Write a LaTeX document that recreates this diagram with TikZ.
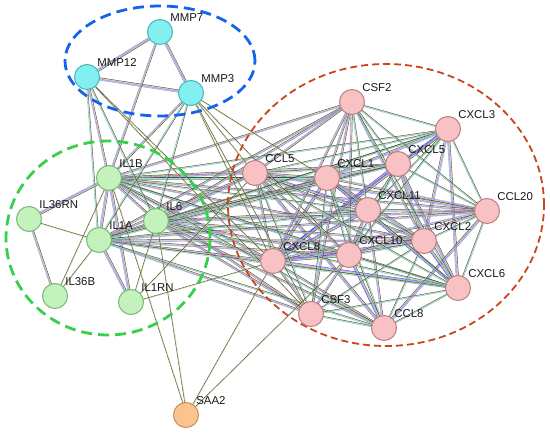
\documentclass[tikz,border=0pt]{standalone}
\usepackage{fontspec}
\setmainfont{Liberation Sans}
\usetikzlibrary{calc,backgrounds}

\definecolor{mmpfill}{HTML}{82F0F0}
\definecolor{mmpline}{HTML}{4CB5B5}
\definecolor{ilfill}{HTML}{C4F2BC}
\definecolor{illine}{HTML}{79B872}
\definecolor{chfill}{HTML}{F8C2C5}
\definecolor{chline}{HTML}{B98085}
\definecolor{saafill}{HTML}{FBC48F}
\definecolor{saaline}{HTML}{CC8E52}
\definecolor{tmc}{HTML}{C9DB72}
\definecolor{coc}{HTML}{4A4A4A}
\definecolor{dbc}{HTML}{5EC3E6}
\definecolor{exc}{HTML}{DD55DD}
\definecolor{hoc}{HTML}{8F8FF0}
\definecolor{ccc}{HTML}{3340EE}
\definecolor{mmpgroup}{HTML}{1264EE}
\definecolor{ilgroup}{HTML}{36D04C}
\definecolor{chgroup}{HTML}{C8461A}

\newcommand{\stringlink}[3]{%
  \foreach \lc [count=\li] in {#3}{%
    \pgfmathsetmacro{\lo}{(\li-3)*0.62}%
    \draw[lnk,\lc] ($(#1)!\lo pt!90:(#2)$) -- ($(#2)!\lo pt!-90:(#1)$);
  }%
}

\begin{document}
\begin{tikzpicture}[x=1pt,y=-1pt,
prot/.style={circle,draw,line width=1pt,minimum size=25pt,inner sep=0pt},
mmp/.style={prot,fill=mmpfill,draw=mmpline},
il/.style={prot,fill=ilfill,draw=illine},
chemo/.style={prot,fill=chfill,draw=chline},
saa/.style={prot,fill=saafill,draw=saaline},
every label/.style={inner sep=1pt,text=black!90,font=\fontsize{11.4}{13}\selectfont},
lnk/.style={line width=0.45pt},
group/.style={dashed,line width=2.8pt,dash pattern=on 11pt off 6pt}]

\useasboundingbox (0,0) rectangle (550,435);

\draw (160,32) node[mmp,label=north east:MMP7] (mmp7) {};
\draw (87,77) node[mmp,label=north east:MMP12] (mmp12) {};
\draw (191,93) node[mmp,label=north east:MMP3] (mmp3) {};

\draw (109,178) node[il,label=north east:IL1B] (il1b) {};
\draw (29,219) node[il,label=north east:IL36RN] (il36rn) {};
\draw (99,240) node[il,label=north east:IL1A] (il1a) {};
\draw (156,221) node[il,label=north east:IL6] (il6) {};
\draw (55,296) node[il,label=north east:IL36B] (il36b) {};
\draw (131,302) node[il,label=north east:IL1RN] (il1rn) {};

\draw (352,102) node[chemo,label=north east:CSF2] (csf2) {};
\draw (448,129) node[chemo,label=north east:CXCL3] (cxcl3) {};
\draw (255,173) node[chemo,label=north east:CCL5] (ccl5) {};
\draw (327,178) node[chemo,label=north east:CXCL1] (cxcl1) {};
\draw (398,164) node[chemo,label=north east:CXCL5] (cxcl5) {};
\draw (368,210) node[chemo,label=north east:CXCL11] (cxcl11) {};
\draw (487,211) node[chemo,label=north east:CCL20] (ccl20) {};
\draw (424,241) node[chemo,label=north east:CXCL2] (cxcl2) {};
\draw (273,261) node[chemo,label=north east:CXCL8] (cxcl8) {};
\draw (349,255) node[chemo,label=north east:CXCL10] (cxcl10) {};
\draw (458,288) node[chemo,label=north east:CXCL6] (cxcl6) {};
\draw (311,314) node[chemo,label=north east:CSF3] (csf3) {};
\draw (384,328) node[chemo,label=north east:CCL8] (ccl8) {};

\draw (186,415) node[saa,label=north east:SAA2] (saa2) {};

\begin{scope}[on background layer]
\foreach \a/\b in {mmp7/mmp12,mmp7/mmp3,mmp12/mmp3,il1b/il1a,il1b/il36rn,il1b/il1rn,il1a/il1rn,
  cxcl1/cxcl2,cxcl1/cxcl3,cxcl1/cxcl5,cxcl2/cxcl3,cxcl2/cxcl5,cxcl3/cxcl5,cxcl3/cxcl6,
  cxcl5/cxcl6,cxcl10/cxcl11,ccl5/ccl8,ccl5/ccl20,ccl8/ccl20}
  \stringlink{\a}{\b}{hoc,dbc,exc,tmc,coc};
\foreach \a/\b in {cxcl1/cxcl6,cxcl1/cxcl8,cxcl2/cxcl6,cxcl2/cxcl8,cxcl5/cxcl8,cxcl6/cxcl8,
  cxcl3/cxcl8,cxcl10/cxcl8,cxcl11/cxcl8,cxcl11/ccl5,cxcl10/ccl8}
  \stringlink{\a}{\b}{ccc,exc,dbc,tmc,coc};
\foreach \a/\b in {il1b/il6,il1a/il6,mmp3/il1b,mmp7/il1b,mmp12/il1b,il36rn/il36b,
  il1b/ccl5,il1b/cxcl1,il1b/cxcl8,il1b/cxcl10,il1b/cxcl2,il1b/csf2,il1b/ccl20,il1b/csf3,il1b/cxcl5,
  il6/ccl5,il6/cxcl1,il6/cxcl8,il6/cxcl10,il6/csf3,il6/csf2,il6/ccl20,il6/cxcl2,il6/cxcl11,il6/ccl8,
  il1a/cxcl8,il1a/ccl5,il1a/cxcl1,il1a/cxcl10,il1a/csf2,il1a/cxcl2,il1a/csf3,il1a/ccl20,
  ccl5/cxcl8,ccl5/cxcl10,ccl5/cxcl1,cxcl11/ccl8,csf2/csf3,ccl20/cxcl8,csf3/cxcl8,
  ccl20/cxcl1,cxcl11/ccl20,cxcl10/ccl20,ccl5/cxcl2,cxcl8/ccl8,cxcl10/csf3,csf2/cxcl8,
  csf2/ccl5,csf2/cxcl1,csf2/cxcl2,csf2/cxcl10}
  \stringlink{\a}{\b}{dbc,exc,tmc,coc};
\foreach \a/\b in {il1b/cxcl11,il1b/cxcl6,il1b/ccl8,il1b/cxcl3,il6/cxcl5,il6/cxcl3,il6/cxcl6,
  il1a/cxcl5,il1a/cxcl3,il1a/cxcl6,il1a/cxcl11,il1a/ccl8,mmp3/il1a,mmp3/il6,mmp12/il1a,mmp12/il6,
  csf2/cxcl3,csf2/cxcl5,csf2/cxcl11,csf2/ccl20,csf2/cxcl6,csf3/ccl5,csf3/cxcl1,csf3/ccl8,
  csf3/cxcl2,csf3/cxcl6,cxcl3/ccl20,cxcl5/ccl20,cxcl2/ccl20,cxcl6/ccl20,ccl8/cxcl2,ccl8/cxcl6,
  ccl8/cxcl1,cxcl11/cxcl1,cxcl11/cxcl5,cxcl11/cxcl2,cxcl11/cxcl3,cxcl11/cxcl6,cxcl10/cxcl1,
  cxcl10/cxcl2,cxcl10/cxcl6,cxcl10/cxcl5,cxcl10/cxcl3,ccl5/cxcl3,ccl5/cxcl5,ccl5/cxcl6}
  \stringlink{\a}{\b}{dbc,tmc,coc};
\foreach \a/\b in {saa2/il1b,saa2/il6,saa2/cxcl8,saa2/cxcl10,il36rn/il1a,il36b/il1a,il36b/il1b,
  il1rn/cxcl8,il1rn/ccl5,il1rn/il6,mmp3/ccl5,mmp3/cxcl1,mmp3/cxcl8,mmp3/csf3,mmp3/cxcl10,
  mmp12/cxcl8,mmp12/csf3}
  \stringlink{\a}{\b}{tmc,coc};
\draw[group,mmpgroup] (160,61) ellipse [x radius=95pt,y radius=55pt];
\draw[group,ilgroup] (108,238) ellipse [x radius=102pt,y radius=97pt];
\draw[group,chgroup,line width=1.8pt,dash pattern=on 7pt off 4pt] (386,205) ellipse [x radius=158pt,y radius=141pt];
\end{scope}

\end{tikzpicture}
\end{document}
